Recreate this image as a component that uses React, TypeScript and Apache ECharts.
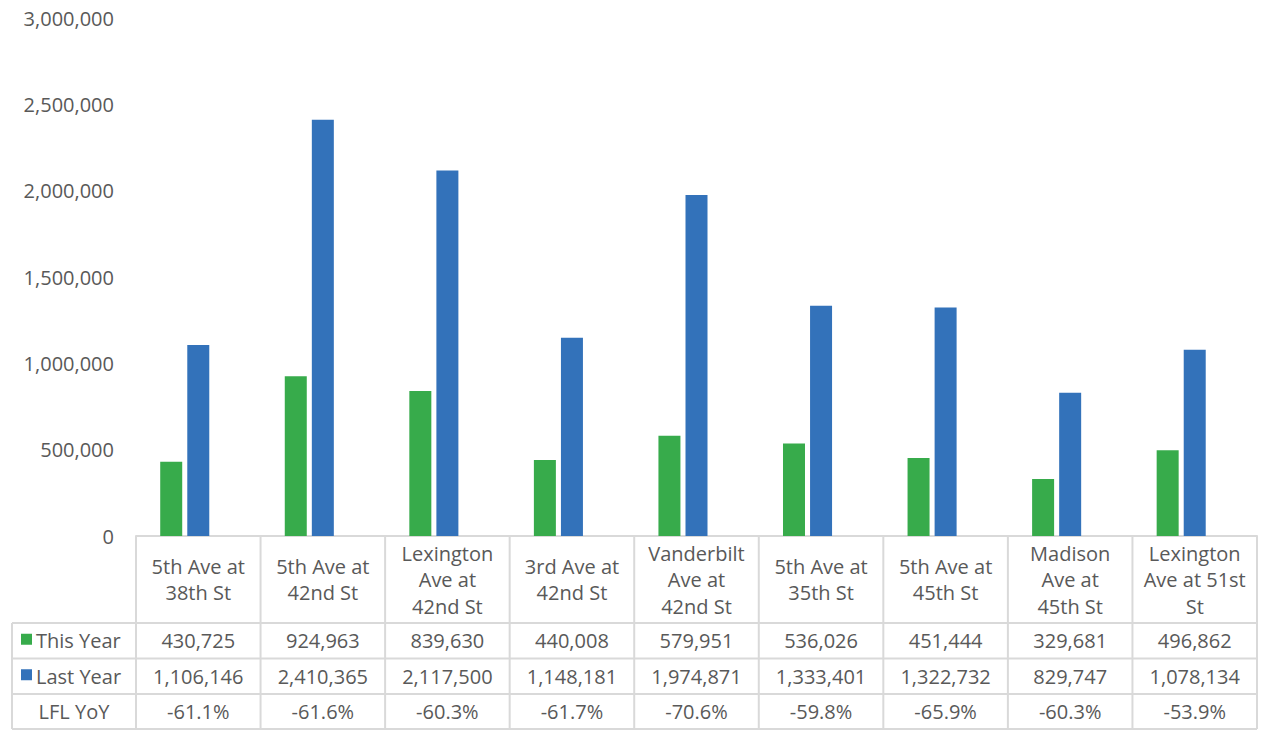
import React, { useEffect, useRef } from "react";
import * as echarts from "echarts";

const categories = [
  "5th Ave at\n38th St",
  "5th Ave at\n42nd St",
  "Lexington\nAve at\n42nd St",
  "3rd Ave at\n42nd St",
  "Vanderbilt\nAve at\n42nd St",
  "5th Ave at\n35th St",
  "5th Ave at\n45th St",
  "Madison\nAve at\n45th St",
  "Lexington\nAve at 51st\nSt",
];
const thisYear = [430725, 924963, 839630, 440008, 579951, 536026, 451444, 329681, 496862];
const lastYear = [1106146, 2410365, 2117500, 1148181, 1974871, 1333401, 1322732, 829747, 1078134];
const lflYoY = [-61.1, -61.6, -60.3, -61.7, -70.6, -59.8, -65.9, -60.3, -53.9];
const seriesNames = ["This Year", "Last Year", "LFL YoY"];
const yMin = 0;
const yMax = 3000000;
const yInterval = 500000;

const GREEN = "#37AB4B";
const BLUE = "#3372BA";
const TEXT = "#595959";
const LINE = "#D9D9D9";
const FONT = "'Open Sans', sans-serif";

const W = 1262;
const H = 730;
const GRID_LEFT = 136;
const GRID_RIGHT_X = 1257;
const AXIS_Y = 536;
const ROW_TOP = [623, 658.5, 694];
const ROW_BOTTOM = 729;
const TABLE_LEFT = 12;

const fmt = (v: number) => v.toLocaleString("en-US");

export default function App() {
  const ref = useRef<HTMLDivElement>(null);
  useEffect(() => {
    if (!ref.current) return;
    const chart = echarts.init(ref.current, undefined, { renderer: "svg" });
    const n = categories.length;
    const colW = (GRID_RIGHT_X - GRID_LEFT) / n;
    const graphics: any[] = [];
    const line = (x1: number, y1: number, x2: number, y2: number) =>
      graphics.push({
        type: "line",
        silent: true,
        shape: { x1, y1, x2, y2 },
        style: { stroke: LINE, lineWidth: 2 },
      });
    for (let i = 0; i <= n; i++) {
      const x = GRID_LEFT + i * colW;
      line(x, AXIS_Y, x, ROW_BOTTOM);
    }
    line(TABLE_LEFT, ROW_TOP[0], TABLE_LEFT, ROW_BOTTOM);
    [...ROW_TOP, ROW_BOTTOM].forEach((y) => line(TABLE_LEFT, y, GRID_RIGHT_X, y));

    const rows = [
      thisYear.map(fmt),
      lastYear.map(fmt),
      lflYoY.map((v) => v.toFixed(1) + "%"),
    ];
    const rowH = [ROW_TOP[1] - ROW_TOP[0], ROW_TOP[2] - ROW_TOP[1], ROW_BOTTOM - ROW_TOP[2]];
    rows.forEach((vals, r) => {
      const cy = ROW_TOP[r] + rowH[r] / 2;
      vals.forEach((t, i) => {
        graphics.push({
          type: "text",
          silent: true,
          x: GRID_LEFT + (i + 0.5) * colW,
          y: cy,
          style: { text: t, fill: TEXT, font: `20px ${FONT}`, align: "center", verticalAlign: "middle" },
        });
      });
    });
    const keyColors = [GREEN, BLUE];
    seriesNames.forEach((name, r) => {
      const cy = ROW_TOP[r] + rowH[r] / 2;
      if (r < 2) {
        graphics.push({
          type: "rect",
          silent: true,
          shape: { x: 21, y: cy - 7, width: 11, height: 11 },
          style: { fill: keyColors[r] },
        });
        graphics.push({
          type: "text",
          silent: true,
          x: 36,
          y: cy,
          style: { text: name, fill: TEXT, font: `20px ${FONT}`, align: "left", verticalAlign: "middle" },
        });
      } else {
        graphics.push({
          type: "text",
          silent: true,
          x: (TABLE_LEFT + GRID_LEFT) / 2,
          y: cy,
          style: { text: name, fill: TEXT, font: `20px ${FONT}`, align: "center", verticalAlign: "middle" },
        });
      }
    });

    chart.setOption({
      animation: false,
      grid: { left: GRID_LEFT, right: W - GRID_RIGHT_X, top: 18, bottom: H - AXIS_Y, containLabel: false },
      xAxis: {
        type: "category",
        data: categories,
        axisLine: { show: true, lineStyle: { color: LINE, width: 2 } },
        axisTick: { show: false },
        axisLabel: {
          interval: 0,
          margin: (ROW_TOP[0] - AXIS_Y) / 2,
          verticalAlign: "middle",
          lineHeight: 26.5,
          color: TEXT,
          fontSize: 20,
          fontFamily: FONT,
        },
      },
      yAxis: {
        type: "value",
        min: yMin,
        max: yMax,
        interval: yInterval,
        axisLine: { show: false },
        axisTick: { show: false },
        splitLine: { show: false },
        axisLabel: {
          margin: 22,
          color: TEXT,
          fontSize: 20,
          fontFamily: FONT,
          formatter: (v: number) => fmt(v),
        },
      },
      series: [
        { name: seriesNames[0], type: "bar", data: thisYear, barWidth: 22, barGap: "23%", itemStyle: { color: GREEN } },
        { name: seriesNames[1], type: "bar", data: lastYear, barWidth: 22, barGap: "23%", itemStyle: { color: BLUE } },
        { name: seriesNames[2], type: "bar", data: lflYoY.map((v) => v / 100), barWidth: 22, barGap: "23%", itemStyle: { color: "rgba(0,0,0,0)" } },
      ],
      graphic: graphics,
    });
    return () => chart.dispose();
  }, []);
  return (
    <div
      ref={ref}
      style={{ position: "fixed", left: 0, top: 0, width: W, height: H, background: "#fff" }}
    />
  );
}
